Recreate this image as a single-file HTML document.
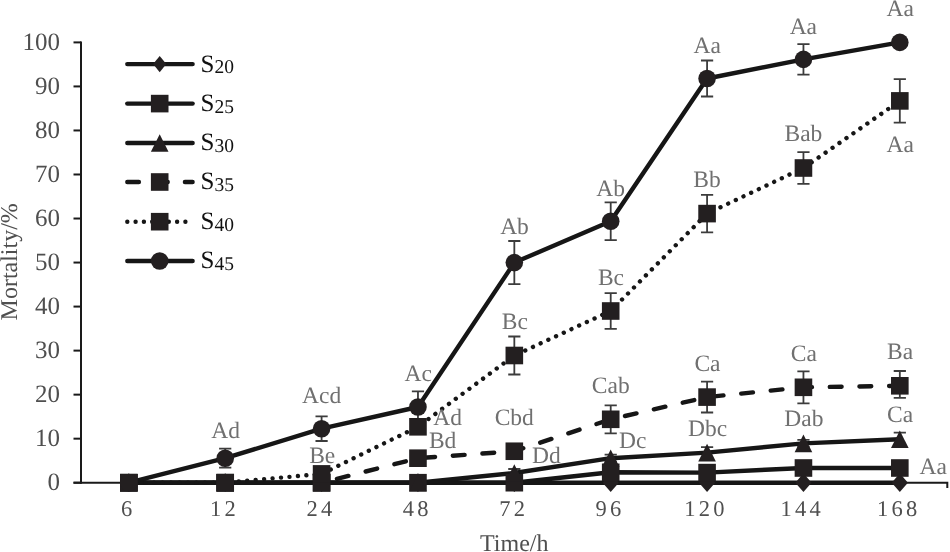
<!DOCTYPE html>
<html><head><meta charset="utf-8"><style>
html,body{margin:0;padding:0;background:#fff;}
body{width:950px;height:552px;overflow:hidden;}
svg{display:block;filter:blur(0.35px);}
text{font-family:"Liberation Serif",serif;text-rendering:geometricPrecision;}
</style></head><body>
<svg width="950" height="552" viewBox="0 0 950 552">
<rect width="950" height="552" fill="#fff"/>
<g stroke="#1a1a1a" stroke-width="2" fill="none">
<path d="M81 41.4V483.7"/>
<path d="M73.5 482.70H81"/>
<path d="M73.5 438.67H81"/>
<path d="M73.5 394.64H81"/>
<path d="M73.5 350.61H81"/>
<path d="M73.5 306.58H81"/>
<path d="M73.5 262.55H81"/>
<path d="M73.5 218.52H81"/>
<path d="M73.5 174.49H81"/>
<path d="M73.5 130.46H81"/>
<path d="M73.5 86.43H81"/>
<path d="M73.5 42.40H81"/>
<path d="M73.5 482.70H947.3V488"/>
</g>
<g font-size="25" fill="#4f4f4f" text-anchor="end">
<text x="60" y="490.30">0</text>
<text x="60" y="446.27">10</text>
<text x="60" y="402.24">20</text>
<text x="60" y="358.21">30</text>
<text x="60" y="314.18">40</text>
<text x="60" y="270.15">50</text>
<text x="60" y="226.12">60</text>
<text x="60" y="182.09">70</text>
<text x="60" y="138.06">80</text>
<text x="60" y="94.03">90</text>
<text x="60" y="50.00">100</text>
</g>
<g font-size="22.5" fill="#4f4f4f" text-anchor="middle" letter-spacing="3.25">
<text x="128.24" y="516">6</text>
<text x="224.61" y="516">12</text>
<text x="320.99" y="516">24</text>
<text x="417.36" y="516">48</text>
<text x="513.73" y="516">72</text>
<text x="610.11" y="516">96</text>
<text x="705.98" y="516">120</text>
<text x="802.35" y="516">144</text>
<text x="898.72" y="516">168</text>
</g>
<text font-size="24" fill="#4f4f4f" text-anchor="middle" x="514.3" y="551">Time/h</text>
<text font-size="24" fill="#4f4f4f" text-anchor="middle" transform="translate(17.2 261.8) rotate(-90)">Mortality/%</text>
<g fill="none" stroke="#161616" stroke-width="4.4" stroke-linejoin="round" stroke-linecap="round">
<polyline points="128.84,482.70 225.21,482.70 321.59,482.70 417.96,482.70 514.33,482.70 610.71,482.70 707.08,482.70 803.45,482.70 899.82,482.70" />
<polyline points="128.84,482.70 225.21,482.70 321.59,482.70 417.96,482.70 514.33,482.70 610.71,472.30 707.08,472.60 803.45,468.00 899.82,468.00" />
<polyline points="128.84,482.70 225.21,482.70 321.59,482.70 417.96,482.70 514.33,473.00 610.71,458.20 707.08,452.60 803.45,443.40 899.82,439.20" />
<polyline points="321.59,482.70 417.96,458.20 514.33,451.25 610.71,419.30 707.08,397.10 803.45,387.30 899.82,385.80" stroke-dasharray="11.8 17.84" stroke-dashoffset="13.8"/>
<polyline points="128.84,482.70 225.21,482.70 321.59,473.90 417.96,426.80 514.33,355.50 610.71,311.00 707.08,213.60 803.45,168.00 899.82,100.90" stroke-dasharray="0.01 8.472" stroke-dashoffset="0.27"/>
<polyline points="128.84,482.70 225.21,458.20 321.59,428.70 417.96,407.00 514.33,262.60 610.71,221.20 707.08,78.50 803.45,59.40 899.82,42.40" />
</g>
<g stroke="#3c3c3c" stroke-width="1.8" fill="none">
<path d="M225.21 448.70V467.70M219.11 448.70H231.31M219.11 467.70H231.31"/>
<path d="M321.59 416.40V441.00M315.49 416.40H327.69M315.49 441.00H327.69"/>
<path d="M417.96 391.40V422.60M411.86 391.40H424.06M411.86 422.60H424.06"/>
<path d="M514.33 241.00V284.20M508.23 241.00H520.43M508.23 284.20H520.43"/>
<path d="M610.71 202.30V240.10M604.61 202.30H616.81M604.61 240.10H616.81"/>
<path d="M707.08 60.50V96.50M700.98 60.50H713.18M700.98 96.50H713.18"/>
<path d="M803.45 44.20V74.60M797.35 44.20H809.55M797.35 74.60H809.55"/>
<path d="M417.96 420.80V432.80M411.86 420.80H424.06M411.86 432.80H424.06"/>
<path d="M514.33 336.50V374.50M508.23 336.50H520.43M508.23 374.50H520.43"/>
<path d="M610.71 293.20V328.80M604.61 293.20H616.81M604.61 328.80H616.81"/>
<path d="M707.08 194.90V232.30M700.98 194.90H713.18M700.98 232.30H713.18"/>
<path d="M803.45 152.10V183.90M797.35 152.10H809.55M797.35 183.90H809.55"/>
<path d="M899.82 79.20V122.60M893.72 79.20H905.92M893.72 122.60H905.92"/>
<path d="M610.71 405.30V433.30M604.61 405.30H616.81M604.61 433.30H616.81"/>
<path d="M707.08 381.70V412.50M700.98 381.70H713.18M700.98 412.50H713.18"/>
<path d="M803.45 371.30V403.30M797.35 371.30H809.55M797.35 403.30H809.55"/>
<path d="M899.82 371.00V397.80M893.72 371.00H905.92M893.72 397.80H905.92"/>
<path d="M514.33 469.00V477.00M508.23 469.00H520.43M508.23 477.00H520.43"/>
<path d="M610.71 454.70V461.70M604.61 454.70H616.81M604.61 461.70H616.81"/>
<path d="M707.08 447.20V458.00M700.98 447.20H713.18M700.98 458.00H713.18"/>
<path d="M803.45 439.90V446.90M797.35 439.90H809.55M797.35 446.90H809.55"/>
<path d="M899.82 432.70V445.70M893.72 432.70H905.92M893.72 445.70H905.92"/>
</g>
<g fill="#231f20" stroke="none">
<path d="M128.84 473.37L136.94 482.70L128.84 492.03L120.74 482.70Z"/>
<path d="M225.21 473.37L233.31 482.70L225.21 492.03L217.12 482.70Z"/>
<path d="M321.59 473.37L329.68 482.70L321.59 492.03L313.49 482.70Z"/>
<path d="M417.96 473.37L426.06 482.70L417.96 492.03L409.86 482.70Z"/>
<path d="M514.33 473.37L522.43 482.70L514.33 492.03L506.24 482.70Z"/>
<path d="M610.71 473.37L618.80 482.70L610.71 492.03L602.61 482.70Z"/>
<path d="M707.08 473.37L715.17 482.70L707.08 492.03L698.98 482.70Z"/>
<path d="M803.45 473.37L811.55 482.70L803.45 492.03L795.36 482.70Z"/>
<path d="M899.82 473.37L907.92 482.70L899.82 492.03L891.73 482.70Z"/>
<rect x="120.04" y="473.90" width="17.60" height="17.60"/>
<rect x="216.41" y="473.90" width="17.60" height="17.60"/>
<rect x="312.79" y="473.90" width="17.60" height="17.60"/>
<rect x="409.16" y="473.90" width="17.60" height="17.60"/>
<rect x="505.53" y="473.90" width="17.60" height="17.60"/>
<rect x="601.91" y="463.50" width="17.60" height="17.60"/>
<rect x="698.28" y="463.80" width="17.60" height="17.60"/>
<rect x="794.65" y="459.20" width="17.60" height="17.60"/>
<rect x="891.02" y="459.20" width="17.60" height="17.60"/>
<path d="M128.84 473.90L137.64 491.50L120.04 491.50Z"/>
<path d="M225.21 473.90L234.01 491.50L216.41 491.50Z"/>
<path d="M321.59 473.90L330.39 491.50L312.79 491.50Z"/>
<path d="M417.96 473.90L426.76 491.50L409.16 491.50Z"/>
<path d="M514.33 464.20L523.13 481.80L505.53 481.80Z"/>
<path d="M610.71 449.40L619.50 467.00L601.91 467.00Z"/>
<path d="M707.08 443.80L715.88 461.40L698.28 461.40Z"/>
<path d="M803.45 434.60L812.25 452.20L794.65 452.20Z"/>
<path d="M899.82 430.40L908.62 448.00L891.02 448.00Z"/>
<rect x="120.04" y="473.90" width="17.60" height="17.60"/>
<rect x="216.41" y="473.90" width="17.60" height="17.60"/>
<rect x="312.79" y="473.90" width="17.60" height="17.60"/>
<rect x="409.16" y="449.40" width="17.60" height="17.60"/>
<rect x="505.53" y="442.45" width="17.60" height="17.60"/>
<rect x="601.91" y="410.50" width="17.60" height="17.60"/>
<rect x="698.28" y="388.30" width="17.60" height="17.60"/>
<rect x="794.65" y="378.50" width="17.60" height="17.60"/>
<rect x="891.02" y="377.00" width="17.60" height="17.60"/>
<rect x="120.04" y="473.90" width="17.60" height="17.60"/>
<rect x="216.41" y="473.90" width="17.60" height="17.60"/>
<rect x="312.79" y="465.10" width="17.60" height="17.60"/>
<rect x="409.16" y="418.00" width="17.60" height="17.60"/>
<rect x="505.53" y="346.70" width="17.60" height="17.60"/>
<rect x="601.91" y="302.20" width="17.60" height="17.60"/>
<rect x="698.28" y="204.80" width="17.60" height="17.60"/>
<rect x="794.65" y="159.20" width="17.60" height="17.60"/>
<rect x="891.02" y="92.10" width="17.60" height="17.60"/>
<circle cx="128.84" cy="482.70" r="8.80"/>
<circle cx="225.21" cy="458.20" r="8.80"/>
<circle cx="321.59" cy="428.70" r="8.80"/>
<circle cx="417.96" cy="407.00" r="8.80"/>
<circle cx="514.33" cy="262.60" r="8.80"/>
<circle cx="610.71" cy="221.20" r="8.80"/>
<circle cx="707.08" cy="78.50" r="8.80"/>
<circle cx="803.45" cy="59.40" r="8.80"/>
<circle cx="899.82" cy="42.40" r="8.80"/>
</g>
<g font-size="23.5" fill="#707070" text-anchor="middle">
<text x="225.65" y="438.00">Ad</text>
<text x="321.70" y="402.90">Acd</text>
<text x="322.20" y="463.00">Be</text>
<text x="418.25" y="381.10">Ac</text>
<text x="447.70" y="424.60">Ad</text>
<text x="442.65" y="448.20">Bd</text>
<text x="514.50" y="233.70">Ab</text>
<text x="514.90" y="329.30">Bc</text>
<text x="514.25" y="425.00">Cbd</text>
<text x="546.45" y="463.40">Dd</text>
<text x="610.65" y="195.50">Ab</text>
<text x="611.00" y="285.20">Bc</text>
<text x="610.80" y="393.10">Cab</text>
<text x="632.65" y="447.80">Dc</text>
<text x="707.20" y="52.90">Aa</text>
<text x="707.00" y="187.00">Bb</text>
<text x="707.50" y="370.70">Ca</text>
<text x="707.55" y="435.50">Dbc</text>
<text x="803.35" y="33.50">Aa</text>
<text x="803.40" y="140.70">Bab</text>
<text x="803.90" y="360.80">Ca</text>
<text x="803.85" y="425.50">Dab</text>
<text x="900.15" y="16.30">Aa</text>
<text x="900.15" y="151.60">Aa</text>
<text x="900.10" y="359.30">Ba</text>
<text x="900.10" y="422.40">Ca</text>
<text x="933.15" y="473.80">Aa</text>
</g>
<g fill="none" stroke="#161616" stroke-width="4.4" stroke-linecap="round">
<path d="M127.3 64.1H192.6" />
<path d="M127.3 103.6H192.6" />
<path d="M127.3 143.0H192.6" />
<path d="M127.3 182.0H192.6" stroke-dasharray="11.6 17.2" stroke-dashoffset="0"/>
<path d="M127.3 221.7H192.6" stroke-dasharray="0.01 8.29" stroke-dashoffset="0"/>
<path d="M127.3 261.0H192.6" />
</g>
<g fill="#231f20" stroke="none">
<path d="M159.7 55.90L166.3 64.10L159.7 72.30L153.1 64.10Z"/>
<rect x="150.90" y="94.80" width="17.60" height="17.60"/>
<path d="M159.70 134.20L168.50 151.80L150.90 151.80Z"/>
<rect x="150.90" y="173.20" width="17.60" height="17.60"/>
<rect x="150.90" y="212.90" width="17.60" height="17.60"/>
<circle cx="159.70" cy="261.00" r="8.80"/>
</g>
<g fill="#111">
<text x="200.5" y="71.50" font-size="25">S<tspan font-size="19.5" dy="1.8">20</tspan></text>
<text x="200.5" y="111.00" font-size="25">S<tspan font-size="19.5" dy="1.8">25</tspan></text>
<text x="200.5" y="150.40" font-size="25">S<tspan font-size="19.5" dy="1.8">30</tspan></text>
<text x="200.5" y="189.40" font-size="25">S<tspan font-size="19.5" dy="1.8">35</tspan></text>
<text x="200.5" y="229.10" font-size="25">S<tspan font-size="19.5" dy="1.8">40</tspan></text>
<text x="200.5" y="268.40" font-size="25">S<tspan font-size="19.5" dy="1.8">45</tspan></text>
</g>
</svg></body></html>
